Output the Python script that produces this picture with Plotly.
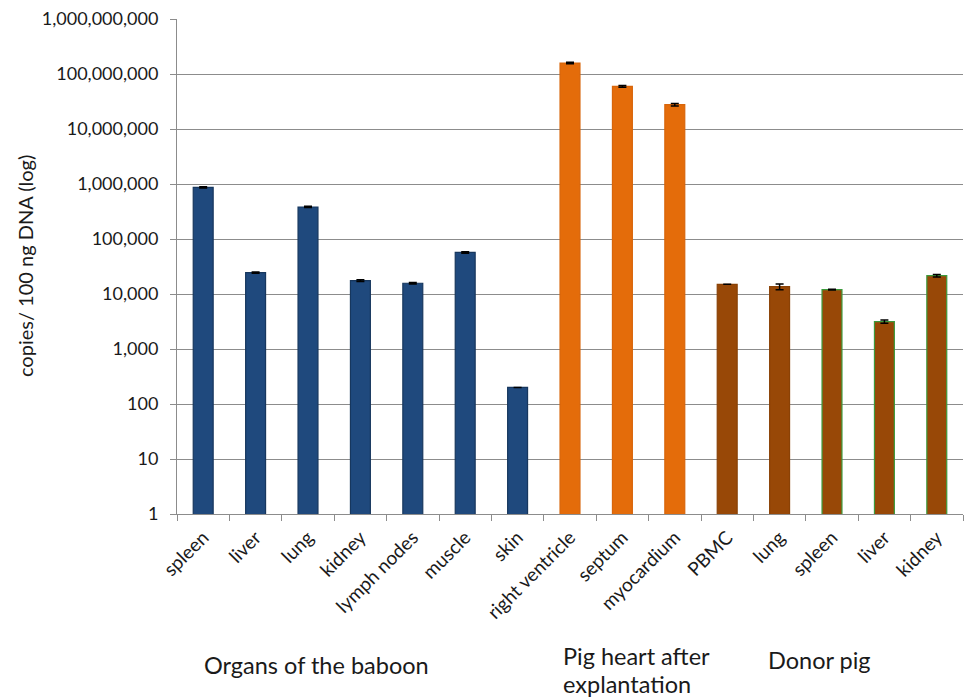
import plotly.graph_objects as go

categories = ["spleen", "liver", "lung", "kidney", "lymph nodes", "muscle", "skin",
              "right ventricle", "septum", "myocardium",
              "PBMC", "lung", "spleen", "liver", "kidney"]
values = [870000, 24400, 382000, 17500, 15700, 57000, 200,
          158000000, 59600000, 27700000,
          15000, 13600, 12000, 3150, 21500]
errors = [25000, 600, 10000, 600, 500, 1800, 0,
          5000000, 2000000, 1500000,
          0, 1600, 200, 200, 1200]
groups = ["baboon"] * 7 + ["heart"] * 3 + ["donor"] * 5
outline_green = [False] * 12 + [True, True, True]

y_tickvals = [1, 10, 100, 1000, 10000, 100000, 1000000, 10000000, 100000000, 1000000000]
y_ticktext = ["1", "10", "100", "1,000", "10,000", "100,000", "1,000,000",
              "10,000,000", "100,000,000", "1,000,000,000"]

group_fill = {"baboon": "#1F497D", "heart": "#E46C0A", "donor": "#984807"}
group_line = {"baboon": "#17375E", "heart": "#D8650A", "donor": "#8A4206"}

fill = [group_fill[g] for g in groups]
line = ["#3C9A3C" if og else group_line[g] for g, og in zip(groups, outline_green)]

xs = list(range(len(categories)))
FONT = "Lato"
TXT = "#1a1a1a"

fig = go.Figure(go.Bar(
    x=xs, y=values,
    marker=dict(color=fill, line=dict(color=line, width=1.2)),
    width=0.38,
    error_y=dict(type="data", array=errors, color="black", thickness=1.5, width=4),
))

L, R, T, B = 177, 1, 19, 185
W, H = 964, 699
PW, PH = W - L - R, H - T - B

fig.update_layout(
    width=W, height=H,
    margin=dict(l=L, r=R, t=T, b=B, autoexpand=False),
    plot_bgcolor="white", paper_bgcolor="white",
    showlegend=False,
    font=dict(family=FONT, color=TXT, size=16),
    xaxis=dict(
        range=[-0.5, 14.5], automargin=False,
        tickvals=xs, ticktext=categories, tickangle=-45,
        ticks="outside", ticklen=4, tickcolor="rgba(0,0,0,0)",
        showgrid=False, zeroline=False,
        showline=True, linecolor="#8c8c8c", linewidth=1,
        tickfont=dict(size=19, family=FONT, color=TXT),
        minor=dict(tick0=-0.5, dtick=1, ticks="outside", ticklen=6,
                   tickcolor="#8c8c8c", showgrid=False),
    ),
    yaxis=dict(
        type="log", range=[0, 9], automargin=False,
        tickvals=y_tickvals, ticktext=y_ticktext,
        ticks="outside", ticklen=6, tickcolor="#8c8c8c",
        ticklabelstandoff=8,
        showgrid=True, gridcolor="#8c8c8c", gridwidth=1,
        showline=True, linecolor="#8c8c8c", linewidth=1,
        zeroline=False,
        tickfont=dict(size=18, family=FONT, color=TXT),
    ),
)

def px_x(p):
    return (p - L) / PW

def px_y(p):
    return (H - B - p) / PH

fig.add_annotation(text="copies/ 100 ng DNA (log)", xref="paper", yref="paper",
                   x=px_x(25), y=px_y(266), textangle=-90,
                   xanchor="center", yanchor="middle", showarrow=False,
                   font=dict(size=20, family=FONT, color=TXT))

ann_font = dict(size=23.5, family=FONT, color=TXT)
fig.add_annotation(text="Organs of the baboon", xref="paper", yref="paper",
                   x=px_x(316), y=px_y(665),
                   xanchor="center", yanchor="middle", showarrow=False, font=ann_font)
fig.add_annotation(text="Pig heart after", xref="paper", yref="paper",
                   x=px_x(561), y=px_y(656),
                   xanchor="left", yanchor="middle", showarrow=False, font=ann_font)
fig.add_annotation(text="explantation", xref="paper", yref="paper",
                   x=px_x(561), y=px_y(684),
                   xanchor="left", yanchor="middle", showarrow=False, font=ann_font)
fig.add_annotation(text="Donor pig", xref="paper", yref="paper",
                   x=px_x(766), y=px_y(660),
                   xanchor="left", yanchor="middle", showarrow=False, font=ann_font)

fig.write_html("out.html", config={"displayModeBar": False},
               post_script="document.body.style.margin='0';document.body.style.overflow='hidden';")
